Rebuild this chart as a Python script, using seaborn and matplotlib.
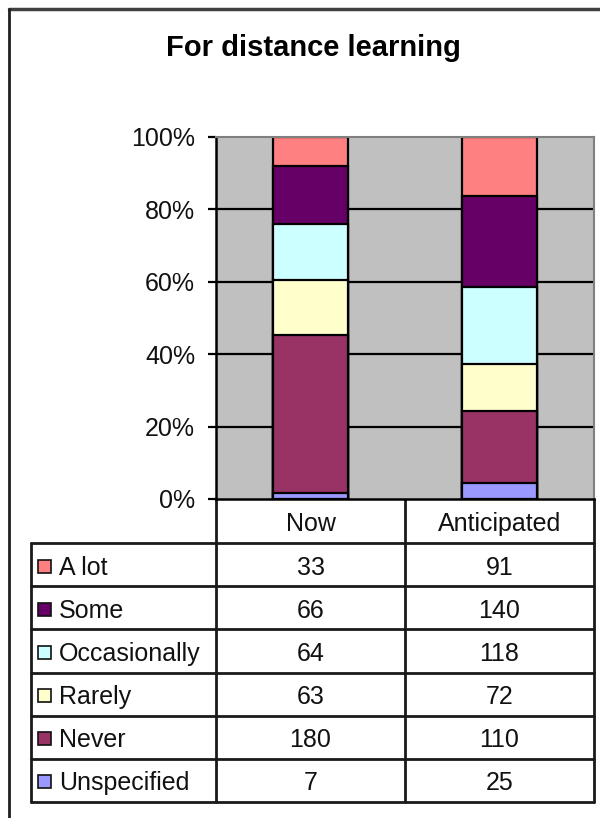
import pandas as pd
import seaborn as sns
import matplotlib.pyplot as plt
from matplotlib.patches import Rectangle
from matplotlib.ticker import PercentFormatter

periods = ['Now', 'Anticipated']
levels = ['A lot', 'Some', 'Occasionally', 'Rarely', 'Never', 'Unspecified']
now_counts = [33, 66, 64, 63, 180, 7]
anticipated_counts = [91, 140, 118, 72, 110, 25]
level_colors = ['#FF8080', '#660066', '#CCFFFF', '#FFFFCC', '#993366', '#9999FF']
y_ticks = [0, 0.2, 0.4, 0.6, 0.8, 1.0]

sns.set_theme(style='white')
plt.rcParams['font.family'] = ['Liberation Sans', 'DejaVu Sans']

# long table + cumulative share from the bottom (Unspecified) upwards
rows = []
for period, counts in zip(periods, [now_counts, anticipated_counts]):
    total = sum(counts)
    cum = 0
    for lvl, c in reversed(list(zip(levels, counts))):
        cum += c
        rows.append({'period': period, 'level': lvl, 'count': c, 'cum': cum / total})
df = pd.DataFrame(rows)

W, H = 600, 818
fig = plt.figure(figsize=(W / 100, H / 100), dpi=100)

# pixel-space overlay for frame, title and data table
bg = fig.add_axes([0, 0, 1, 1])
bg.set_xlim(0, W)
bg.set_ylim(H, 0)
bg.axis('off')

ax = fig.add_axes([216 / W, (H - 499) / H, 378 / W, 362 / H])
ax.set_facecolor('#C0C0C0')

# layered cumulative bars: tallest first so smaller ones sit on top
for lvl, col in zip(levels, level_colors):
    sns.barplot(data=df[df['level'] == lvl], x='period', y='cum', order=periods,
                color=col, saturation=1, width=0.4, edgecolor='black',
                linewidth=1.6, ax=ax, zorder=2)

for t in y_ticks[1:-1]:
    ax.axhline(t, color='black', lw=1.6, zorder=1)

ax.set_ylim(0, 1)
ax.set_xlim(-0.5, 1.5)
ax.set_yticks(y_ticks)
ax.yaxis.set_major_formatter(PercentFormatter(1.0, decimals=0))
ax.tick_params(axis='y', left=True, length=6, width=1.6, color='black',
               labelsize=18, pad=9, labelcolor='#111111')
ax.tick_params(axis='x', bottom=False, labelbottom=False)
ax.set_xlabel('')
ax.set_ylabel('')
for side in ['left', 'bottom']:
    ax.spines[side].set_color('black')
    ax.spines[side].set_linewidth(1.8)
for side in ['top', 'right']:
    ax.spines[side].set_color('#808080')
    ax.spines[side].set_linewidth(1.5)

# outer chart frame
bg.plot([9, W], [9, 9], color='#404040', lw=2.5)
bg.plot([9, 9], [9, H], color='#202020', lw=2)

bg.text(313, 48, 'For distance learning', ha='center', va='center',
        fontsize=21, fontweight='bold', color='black')

# data table under the chart
col_x = [216, 405, 594]
lab_x = 31
top_y, head_y, bot_y = 499, 543, 802
row_h = (bot_y - head_y) / len(levels)
lc, lw = '#1a1a1a', 2
dy = 3  # text sits slightly low in the cells

for x in col_x:
    bg.plot([x, x], [top_y, bot_y], color=lc, lw=lw)
bg.plot([lab_x, lab_x], [head_y, bot_y], color=lc, lw=lw)
for i in range(len(levels) + 1):
    y = head_y + i * row_h
    bg.plot([lab_x, col_x[-1]], [y, y], color=lc, lw=lw)

for j, period in enumerate(periods):
    cx = (col_x[j] + col_x[j + 1]) / 2
    bg.text(cx, (top_y + head_y) / 2 + dy, period, ha='center', va='center',
            fontsize=18, color='#111111')

for i, (lvl, col) in enumerate(zip(levels, level_colors)):
    cy = head_y + (i + 0.5) * row_h
    bg.add_patch(Rectangle((38, cy - 5), 13, 13, facecolor=col,
                           edgecolor='#111111', lw=1.2))
    bg.text(59, cy + dy, lvl, ha='left', va='center', fontsize=18, color='#111111')
    for j, counts in enumerate([now_counts, anticipated_counts]):
        cx = (col_x[j] + col_x[j + 1]) / 2
        bg.text(cx, cy + dy, str(counts[i]), ha='center', va='center',
                fontsize=18, color='#111111')

fig.savefig('out.png', dpi=100)
